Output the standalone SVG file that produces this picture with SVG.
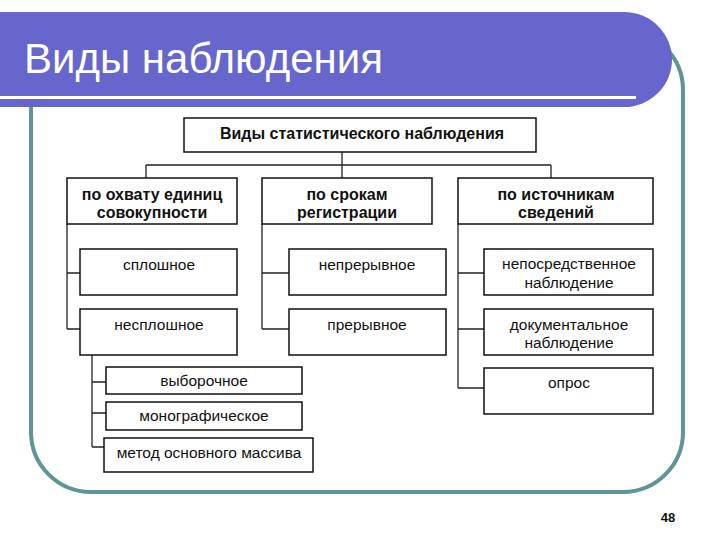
<svg xmlns="http://www.w3.org/2000/svg" width="720" height="540" viewBox="0 0 720 540">
<style>
.box{fill:#fff;stroke:#111;stroke-width:1.5}
.t{font-family:"Liberation Sans",Arial,sans-serif;font-size:15.5px;fill:#111;text-anchor:middle}
.b{font-weight:bold;font-size:16px}
.c{fill:none;stroke:#222;stroke-width:1.3}
</style>
<rect x="0" y="0" width="720" height="540" fill="#fff"/>
<rect x="31" y="30" width="652" height="462" rx="60" fill="none" stroke="#5f9595" stroke-width="4"/>
<g id="title">
<rect x="-60" y="12" width="732" height="95" rx="48" fill="#6666cc"/>
<rect x="0" y="96" width="636" height="3" fill="#fff"/>
<text x="24" y="73" font-family="Liberation Sans,Arial,sans-serif" font-size="42" fill="#fff">Виды наблюдения</text>
</g>
<g id="connectors">
<path class="c" d="M342 152V165M146 165H551M146 165V178M342 165V178M551 165V178"/>
<path class="c" d="M67 224V329M67 273H80M67 329H80"/>
<path class="c" d="M262 224V329M262 273H289M262 329H289"/>
<path class="c" d="M458 224V388M458 273H484M458 329H484M458 388H484"/>
<path class="c" d="M92 355V447M92 382H106M92 413H106M92 447H104"/>
</g>
<g id="root"><rect class="box" x="184" y="118" width="352" height="34"/><text class="t b" x="362" y="139">Виды статистического наблюдения</text></g>
<g id="cat1"><rect class="box" x="67" y="178" width="170" height="46"/><text class="t b" x="152" y="200">по охвату единиц</text><text class="t b" x="152" y="218">совокупности</text></g>
<g id="cat2"><rect class="box" x="262" y="178" width="170" height="46"/><text class="t b" x="347" y="200">по срокам</text><text class="t b" x="347" y="218">регистрации</text></g>
<g id="cat3"><rect class="box" x="458" y="178" width="195" height="46"/><text class="t b" x="556" y="200">по источникам</text><text class="t b" x="556" y="218">сведений</text></g>
<g id="s1"><rect class="box" x="80" y="249" width="157" height="46"/><text class="t" x="159" y="270">сплошное</text></g>
<g id="s2"><rect class="box" x="80" y="309" width="157" height="46"/><text class="t" x="159" y="330">несплошное</text></g>
<g id="s3"><rect class="box" x="289" y="249" width="157" height="46"/><text class="t" x="367" y="270">непрерывное</text></g>
<g id="s4"><rect class="box" x="289" y="309" width="157" height="46"/><text class="t" x="367" y="330">прерывное</text></g>
<g id="s5"><rect class="box" x="484" y="249" width="169" height="46"/><text class="t" x="569" y="269">непосредственное</text><text class="t" x="569" y="288">наблюдение</text></g>
<g id="s6"><rect class="box" x="484" y="309" width="169" height="46"/><text class="t" x="569" y="330">документальное</text><text class="t" x="569" y="348">наблюдение</text></g>
<g id="s7"><rect class="box" x="484" y="368" width="169" height="46"/><text class="t" x="569" y="388">опрос</text></g>
<g id="n1"><rect class="box" x="106" y="367" width="196" height="27"/><text class="t" x="204" y="386">выборочное</text></g>
<g id="n2"><rect class="box" x="106" y="402" width="196" height="28"/><text class="t" x="204" y="421">монографическое</text></g>
<g id="n3"><rect class="box" x="104" y="438" width="209" height="34"/><text class="t" x="209" y="458">метод основного массива</text></g>
<text x="668" y="522" font-family="Liberation Sans,Arial,sans-serif" font-size="13" font-weight="bold" fill="#111" text-anchor="middle">48</text>
</svg>
